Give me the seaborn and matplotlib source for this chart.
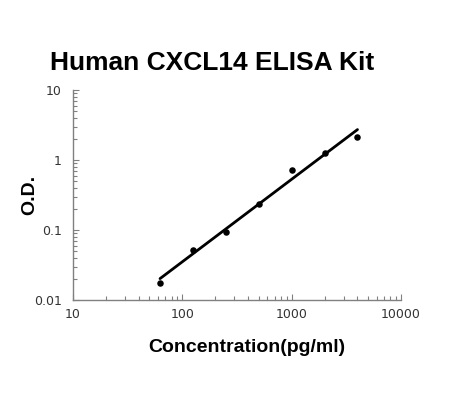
import matplotlib
matplotlib.use("Agg")
import matplotlib.pyplot as plt
from matplotlib.ticker import LogLocator, NullFormatter, FixedLocator, FixedFormatter
import seaborn as sns
import pandas as pd

# стандарты (pg/ml) и средние O.D.
conc = [62.5, 125, 250, 500, 1000, 2000, 4000]
od = [0.0175, 0.052, 0.095, 0.233, 0.71, 1.24, 2.13]

# линия аппроксимации (концы)
fit_conc = [62.5, 4000]
fit_od = [0.0202, 2.72]

x_ticks = [10, 100, 1000, 10000]
x_labels = ["10", "100", "1000", "10000"]
y_ticks = [0.01, 0.1, 1, 10]
y_labels = ["0.01", "0.1", "1", "10"]

sns.set_theme(style="white")
plt.rcParams["font.family"] = ["DejaVu Sans"]

df = pd.DataFrame({"conc": conc, "od": od})
fit = pd.DataFrame({"conc": fit_conc, "od": fit_od})

fig = plt.figure(figsize=(4.5, 4.0), dpi=100)
ax = fig.add_axes([73 / 450, 1 - 300 / 400, (401 - 73) / 450, (300 - 90) / 400])

sns.lineplot(data=fit, x="conc", y="od", color="black", linewidth=2.0, ax=ax)
sns.scatterplot(data=df, x="conc", y="od", color="black", s=22,
                edgecolor="black", linewidth=0, zorder=3, ax=ax)

ax.set_xscale("log")
ax.set_yscale("log")
ax.set_xlim(10, 10000)
ax.set_ylim(0.01, 10)

ax.xaxis.set_major_locator(FixedLocator(x_ticks))
ax.xaxis.set_major_formatter(FixedFormatter(x_labels))
ax.yaxis.set_major_locator(FixedLocator(y_ticks))
ax.yaxis.set_major_formatter(FixedFormatter(y_labels))
ax.xaxis.set_minor_locator(LogLocator(base=10, subs=range(2, 10), numticks=20))
ax.yaxis.set_minor_locator(LogLocator(base=10, subs=range(2, 10), numticks=20))
ax.xaxis.set_minor_formatter(NullFormatter())
ax.yaxis.set_minor_formatter(NullFormatter())

for side in ["top", "right"]:
    ax.spines[side].set_visible(False)
for side in ["left", "bottom"]:
    ax.spines[side].set_color("#808080")
    ax.spines[side].set_linewidth(1.0)

ax.tick_params(which="both", direction="in", bottom=True, left=True,
               color="#808080", width=0.8,
               labelsize=9, labelcolor="#333333", pad=6)
ax.tick_params(which="major", length=4)
ax.tick_params(which="minor", length=3)
ax.tick_params(axis="y", pad=8)

ax.set_xlabel("")
ax.set_ylabel("")
ax.grid(False)

fig.text(212 / 450, 1 - 63 / 400, "Human CXCL14 ELISA Kit", ha="center", va="center",
         fontsize=19, fontweight="bold", family="Liberation Sans", color="black")
fig.text(247 / 450, 1 - 348 / 400, "Concentration(pg/ml)", ha="center", va="center",
         fontsize=14, fontweight="bold", family="Liberation Sans", color="black")
fig.text(30 / 450, 1 - 195 / 400, "O.D.", ha="center", va="center", rotation=90,
         fontsize=14, fontweight="bold", family="Liberation Sans", color="black")

fig.savefig("out.png", dpi=100, facecolor="white")
